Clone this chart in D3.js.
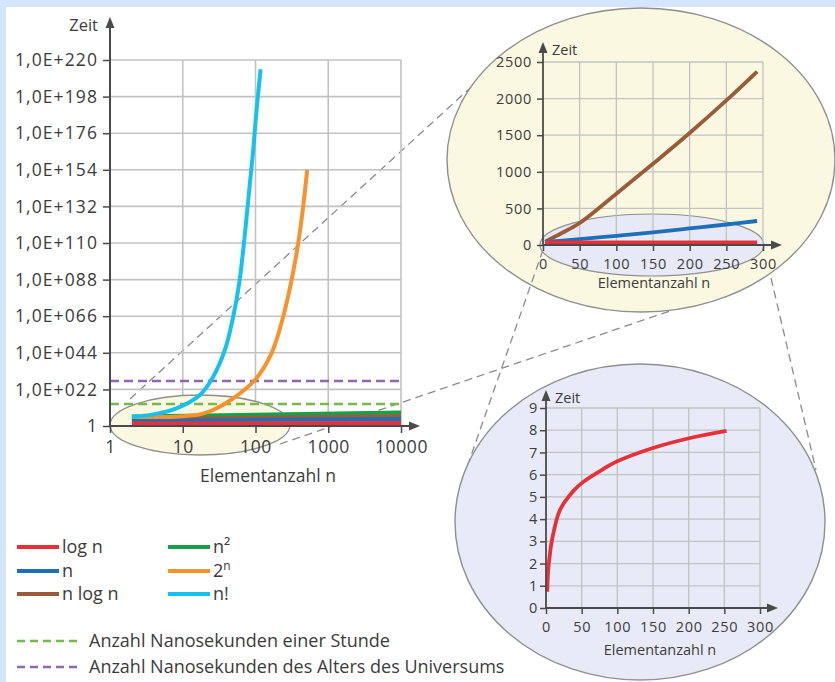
<!DOCTYPE html>
<html>
<head>
<meta charset="utf-8">
<script src="https://cdn.jsdelivr.net/npm/d3@7"></script>
<style>
body { margin: 0; background: #d3e6fb; }
svg { display: block; font-family: "Open Sans", sans-serif; }
</style>
</head>
<body>
<div id="chart"></div>
<script>
// Hauptdiagramm: n logarithmisch, Zeit als Zehnerexponent (1,0E+xxx)
var xTicksMain = [1, 10, 100, 1000, 10000];
var yTicksMain = [0, 22, 44, 66, 88, 110, 132, 154, 176, 198, 220];

// [n, Exponent der Zeit]
var mainLogN = [[2, 1.5], [10000, 1.8]];
var mainN = [[2, 3.0], [10000, 4.2]];
var mainNLogN = [[2, 4.2], [10000, 6.0]];
var mainNQuadrat = [[2, 5.7], [10000, 8.1]];
var mainZweiHochN = [[2, 5.4], [8, 5.6], [17.2, 7.0], [26.2, 9.6], [49.4, 16.6], [98, 27.6],
    [166, 43.7], [240, 65.7], [313, 87.7], [386, 109.8], [452, 131.8], [513, 153.9]];
var mainFakultaet = [[2, 5.6], [3.94, 7.0], [8.24, 10.6], [17.2, 18.6], [26.2, 29.6], [38, 45.7],
    [49.4, 65.7], [59.7, 85.8], [67.8, 105.8], [75.5, 125.8], [83.8, 145.9], [93, 165.9],
    [103.5, 190], [117.5, 214.4]];

var stundeExp = 13.2;
var universumExp = 27.0;

// Lupe oben: linear
var xTicksLupe = [0, 50, 100, 150, 200, 250, 300];
var yTicksOben = [0, 500, 1000, 1500, 2000, 2500];
var obenNLogN = [[3, 45], [25, 160], [50, 300], [100, 700], [150, 1110], [200, 1530], [250, 1975], [292, 2370]];
var obenN = [[3, 42], [50, 80], [100, 125], [150, 173], [200, 226], [250, 280], [292, 328]];
var obenLogN = [[3, 37], [292, 37]];

// Lupe unten: log n
var yTicksUnten = [0, 1, 2, 3, 4, 5, 6, 7, 8, 9];
var untenLogN = [[1.8, 0.73], [2.8, 1.58], [5, 2.3], [8.4, 3.06], [19.6, 4.41], [38, 5.25], [50, 5.62],
    [75, 6.15], [100, 6.6], [150, 7.2], [202, 7.65], [253, 7.97]];

var farben = {
    logn: "#e8303a", n: "#1d6fb8", nlogn: "#9a5b3a", n2: "#17a04c",
    zwein: "#f7922e", fak: "#17c1ee", stunde: "#7ab84a", universum: "#8c6aae"
};
var textFarbe = "#3c3c3c";
var achsFarbe = "#4a4a4a";

var svg = d3.select("#chart")
    .append("svg")
    .attr("width", 835)
    .attr("height", 682);

svg.append("rect")
    .attr("x", 6).attr("y", 7)
    .attr("width", 829).attr("height", 675)
    .attr("fill", "#ffffff");

// gestrichelte Verbindungslinien (unter den Ellipsen)
var verbindung = svg.append("g")
    .attr("stroke", "#8c8c8c")
    .attr("stroke-width", 1.3)
    .attr("stroke-dasharray", "8,5")
    .attr("fill", "none");

verbindung.append("line").attr("x1", 130).attr("y1", 399).attr("x2", 480).attr("y2", 79);
verbindung.append("line").attr("x1", 280).attr("y1", 444).attr("x2", 702).attr("y2", 300);

function arrowUp(g, x, y) {
    g.append("path")
        .attr("d", `M${x},${y} L${x - 4.5},${y + 11} L${x + 4.5},${y + 11} Z`)
        .attr("fill", achsFarbe);
}

function arrowRight(g, x, y) {
    g.append("path")
        .attr("d", `M${x},${y} L${x - 11},${y - 4.5} L${x - 11},${y + 4.5} Z`)
        .attr("fill", achsFarbe);
}

function drawGrid(g, x, y, xTicks, yTicks, width) {
    var grid = g.append("g")
        .attr("stroke", "#c2c2c2")
        .attr("stroke-width", width);

    grid.selectAll(".vx")
        .data(xTicks.slice(1))
        .enter()
        .append("line")
        .attr("x1", d => x(d)).attr("x2", d => x(d))
        .attr("y1", y.range()[0]).attr("y2", y.range()[1]);

    grid.selectAll(".hy")
        .data(yTicks.slice(1))
        .enter()
        .append("line")
        .attr("x1", x.range()[0]).attr("x2", x.range()[1])
        .attr("y1", d => y(d)).attr("y2", d => y(d));
}

function styleAxis(a, fontSize, spacing) {
    a.select(".domain").remove();
    a.selectAll(".tick line").attr("stroke", achsFarbe).attr("stroke-width", 1.5);
    a.selectAll(".tick text")
        .attr("fill", textFarbe)
        .attr("font-size", fontSize)
        .attr("letter-spacing", spacing)
        .attr("font-family", "Open Sans, sans-serif");
}

// ---------- Hauptdiagramm ----------
var xMain = d3.scaleLog().domain([1, 10000]).range([110, 401]);
var yMain = d3.scaleLinear().domain([0, 220]).range([426, 60]);

var main = svg.append("g");

drawGrid(main, xMain, yMain, xTicksMain, yTicksMain, 1.6);

main.append("ellipse")
    .attr("cx", 200).attr("cy", 425)
    .attr("rx", 90).attr("ry", 30)
    .attr("fill", "#fbf8e1")
    .attr("stroke", "#8f8f8f")
    .attr("stroke-width", 1.3);

[[stundeExp, farben.stunde], [universumExp, farben.universum]].forEach(function(r) {
    main.append("line")
        .attr("x1", xMain(1)).attr("x2", xMain(10000))
        .attr("y1", yMain(r[0])).attr("y2", yMain(r[0]))
        .attr("stroke", r[1])
        .attr("stroke-width", 2.5)
        .attr("stroke-dasharray", "9,5");
});

var lineMain = d3.line()
    .x(d => xMain(d[0]))
    .y(d => yMain(d[1]))
    .curve(d3.curveCatmullRom.alpha(0.5));

var mainSerien = [
    [mainNQuadrat, farben.n2], [mainNLogN, farben.nlogn], [mainN, farben.n],
    [mainLogN, farben.logn], [mainZweiHochN, farben.zwein], [mainFakultaet, farben.fak]
];

mainSerien.forEach(function(s) {
    main.append("path")
        .datum(s[0])
        .attr("d", lineMain)
        .attr("fill", "none")
        .attr("stroke", s[1])
        .attr("stroke-width", 4)
        .attr("stroke-linejoin", "round");
});

var yAxisMain = main.append("g")
    .attr("transform", "translate(110,0)")
    .call(d3.axisLeft(yMain)
        .tickValues(yTicksMain)
        .tickSize(7)
        .tickPadding(5)
        .tickFormat(d => d === 0 ? "1" : "1,0E+" + String(d).padStart(3, "0")));
styleAxis(yAxisMain, 17.5, 1.1);

var xAxisMain = main.append("g")
    .attr("transform", "translate(0,426)")
    .call(d3.axisBottom(xMain)
        .tickValues(xTicksMain)
        .tickSize(7)
        .tickPadding(8)
        .tickFormat(d3.format("d")));
styleAxis(xAxisMain, 17.5, 0.6);

main.append("line")
    .attr("x1", 110).attr("y1", 427).attr("x2", 110).attr("y2", 26)
    .attr("stroke", achsFarbe).attr("stroke-width", 2);
main.append("line")
    .attr("x1", 109).attr("y1", 426).attr("x2", 410).attr("y2", 426)
    .attr("stroke", achsFarbe).attr("stroke-width", 2);
arrowUp(main, 110, 17);
arrowRight(main, 420, 426);

main.append("text")
    .attr("x", 98).attr("y", 31)
    .attr("text-anchor", "end")
    .attr("font-size", 16.5)
    .attr("fill", textFarbe)
    .text("Zeit");

main.append("text")
    .attr("x", 268).attr("y", 482)
    .attr("text-anchor", "middle")
    .attr("font-size", 17.5)
    .attr("fill", textFarbe)
    .text("Elementanzahl n");

// ---------- Lupen ----------
function drawLupe(cfg) {
    var g = svg.append("g");
    var x = d3.scaleLinear().domain([0, 300]).range(cfg.xRange);
    var y = d3.scaleLinear().domain(cfg.yDomain).range(cfg.yRange);

    if (cfg.innerEllipse) {
        g.append("ellipse")
            .attr("cx", cfg.innerEllipse[0]).attr("cy", cfg.innerEllipse[1])
            .attr("rx", cfg.innerEllipse[2]).attr("ry", cfg.innerEllipse[3])
            .attr("fill", "#e7e9f6")
            .attr("stroke", "#8f8f8f")
            .attr("stroke-width", 1.2);
    }

    drawGrid(g, x, y, xTicksLupe, cfg.yTicks, 1.3);

    var line = d3.line()
        .x(d => x(d[0]))
        .y(d => y(d[1]))
        .curve(d3.curveCatmullRom.alpha(0.5));

    cfg.serien.forEach(function(s) {
        g.append("path")
            .datum(s[0])
            .attr("d", line)
            .attr("fill", "none")
            .attr("stroke", s[1])
            .attr("stroke-width", 3.8);
    });

    var ya = g.append("g")
        .attr("transform", `translate(${cfg.xRange[0]},0)`)
        .call(d3.axisLeft(y).tickValues(cfg.yTicks).tickSize(6).tickPadding(cfg.yPad)
            .tickFormat(d3.format("d")));
    styleAxis(ya, 14.5, 0.7);

    var xa = g.append("g")
        .attr("transform", `translate(0,${cfg.yRange[0]})`)
        .call(d3.axisBottom(x).tickValues(xTicksLupe).tickSize(6).tickPadding(8)
            .tickFormat(d3.format("d")));
    styleAxis(xa, 14.5, 0.7);

    var x0 = cfg.xRange[0], y0 = cfg.yRange[0];
    g.append("line")
        .attr("x1", x0).attr("y1", y0 + 1).attr("x2", x0).attr("y2", cfg.yArrow + 8)
        .attr("stroke", achsFarbe).attr("stroke-width", 1.8);
    g.append("line")
        .attr("x1", x0 - 1).attr("y1", y0).attr("x2", cfg.xArrow - 8).attr("y2", y0)
        .attr("stroke", achsFarbe).attr("stroke-width", 1.8);
    arrowUp(g, x0, cfg.yArrow);
    arrowRight(g, cfg.xArrow, y0);

    g.append("text")
        .attr("x", x0 + 9).attr("y", cfg.yArrow + 13)
        .attr("font-size", 14.5)
        .attr("fill", textFarbe)
        .text("Zeit");

    g.append("text")
        .attr("x", cfg.titleX).attr("y", cfg.titleY)
        .attr("text-anchor", "middle")
        .attr("font-size", 14.5)
        .attr("fill", textFarbe)
        .text("Elementanzahl n");
}

// obere Lupe
svg.append("ellipse")
    .attr("cx", 641).attr("cy", 160)
    .attr("rx", 194).attr("ry", 152)
    .attr("fill", "#fbf8e1")
    .attr("stroke", "#8f8f8f")
    .attr("stroke-width", 1.4);

var verbindung2 = svg.append("g")
    .attr("stroke", "#8c8c8c")
    .attr("stroke-width", 1.3)
    .attr("stroke-dasharray", "8,5")
    .attr("fill", "none");
verbindung2.append("line").attr("x1", 543).attr("y1", 250).attr("x2", 466).attr("y2", 470);
verbindung2.append("line").attr("x1", 771).attr("y1", 278).attr("x2", 816).attr("y2", 470);

drawLupe({
    xRange: [543, 763],
    yDomain: [0, 2500],
    yRange: [245, 62],
    yTicks: yTicksOben,
    yPad: 5,
    yArrow: 42,
    xArrow: 782,
    titleX: 654,
    titleY: 288,
    innerEllipse: [652, 245, 112, 31],
    serien: [[obenNLogN, farben.nlogn], [obenN, farben.n], [obenLogN, farben.logn]]
});

// untere Lupe
svg.append("ellipse")
    .attr("cx", 640).attr("cy", 522)
    .attr("rx", 185).attr("ry", 158)
    .attr("fill", "#e8ebf7")
    .attr("stroke", "#8f8f8f")
    .attr("stroke-width", 1.4);

drawLupe({
    xRange: [546, 760],
    yDomain: [0, 9],
    yRange: [608, 408],
    yTicks: yTicksUnten,
    yPad: 2,
    yArrow: 390,
    xArrow: 778,
    titleX: 660,
    titleY: 655,
    serien: [[untenLogN, farben.logn]]
});

// ---------- Legende ----------
var legende = svg.append("g").attr("fill", textFarbe).attr("font-size", 18);

var legendEintraege = [
    ["log n", farben.logn, 17, 547], ["n", farben.n, 17, 571], ["n log n", farben.nlogn, 17, 594],
    ["n²", farben.n2, 168, 547], ["2", farben.zwein, 168, 571], ["n!", farben.fak, 168, 594]
];

legendEintraege.forEach(function(e) {
    legende.append("line")
        .attr("x1", e[2]).attr("x2", e[2] + 42)
        .attr("y1", e[3]).attr("y2", e[3])
        .attr("stroke", e[1])
        .attr("stroke-width", 4);
    var t = legende.append("text")
        .attr("x", e[2] + 45).attr("y", e[3] + 6)
        .text(e[0]);
    if (e[0] === "2") {
        t.append("tspan").attr("dy", -7).attr("font-size", 12).text("n");
    }
});

[["Anzahl Nanosekunden einer Stunde", farben.stunde, 641],
 ["Anzahl Nanosekunden des Alters des Universums", farben.universum, 667]].forEach(function(e) {
    legende.append("line")
        .attr("x1", 17).attr("x2", 80)
        .attr("y1", e[2]).attr("y2", e[2])
        .attr("stroke", e[1])
        .attr("stroke-width", 2.5)
        .attr("stroke-dasharray", "8,5");
    legende.append("text")
        .attr("x", 89).attr("y", e[2] + 6)
        .text(e[0]);
});
</script>
</body>
</html>
